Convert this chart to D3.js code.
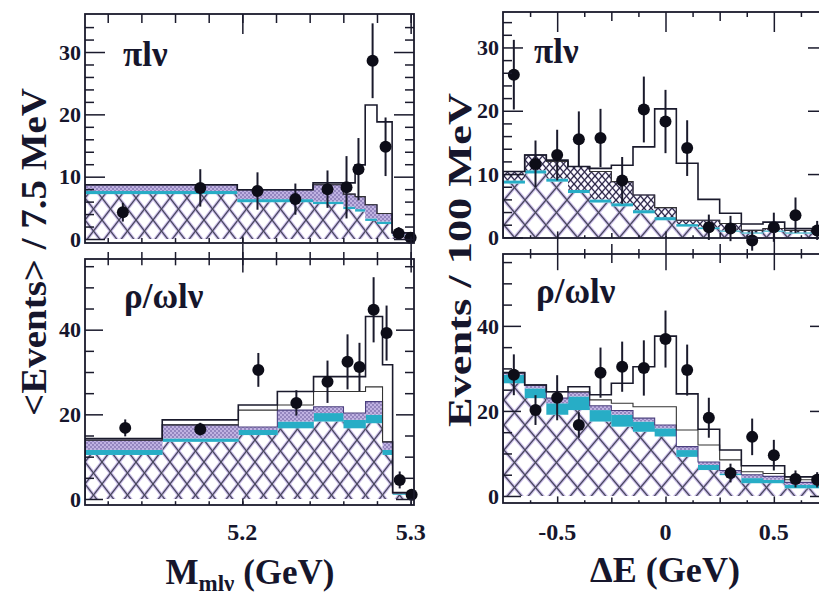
<!DOCTYPE html>
<html>
<head>
<meta charset="utf-8">
<script src="https://cdn.jsdelivr.net/npm/d3@7"></script>
<style>
  body { margin: 0; background: #fff; }
  svg { display: block; }
  text { font-family: "Liberation Serif", "Times New Roman", serif; font-weight: bold; fill: #16162c; }
</style>
</head>
<body>
<svg id="chart" width="819" height="595"></svg>
<script>
// ---------- M(mlν) histograms (bin edges in GeV) ----------
const mEdgesPi  = [5.1065, 5.197, 5.242, 5.260, 5.267, 5.273, 5.280, 5.289, 5.302];
const mPiHatch  = [7.2, 5.9, 5.6, 4.8, 4.4, 2.9, 2.4, 0.5];
const mPiCyan   = [7.7, 6.4, 6.0, 5.2, 4.8, 3.3, 2.8, 0.6];
const mPiBand   = [8.7, 7.9, 8.7, 7.2, 6.8, 5.5, 4.1, 1.0];
const mPiInner  = [8.7, 7.9, 8.7, 7.2, 6.8, 5.5, 4.1, 1.0];
const mPiTotal  = [8.7, 7.9, 9.0, 9.0, 11.9, 21.5, 18.8, 1.0];
const mPiDataX  = [5.129, 5.175, 5.209, 5.2315, 5.2506, 5.2619, 5.269, 5.2774, 5.2851, 5.2929, 5.300];
const mPiDataY  = [4.3, 8.2, 7.7, 6.4, 8.0, 8.3, 11.2, 28.6, 14.8, 0.9, 0.2];
const mPiErr    = [1.5, 3.0, 3.0, 2.5, 3.0, 5.0, 5.0, 6.0, 4.7, 1.0, 0.6];

const mEdgesRho = [5.1065, 5.1524, 5.1976, 5.2208, 5.2423, 5.2601, 5.2732, 5.2833, 5.2893, 5.302];
const mRhoHatch = [10.4, 13.5, 15.1, 16.7, 18.3, 16.7, 17.9, 10.4, 1.0];
const mRhoCyan  = [11.6, 14.3, 16.3, 18.3, 20.3, 18.7, 19.9, 11.6, 1.3];
const mRhoBand  = [13.9, 17.5, 17.0, 21.0, 21.8, 20.3, 23.0, 13.5, 1.5];
const mRhoInner = [13.9, 17.5, 21.0, 22.2, 25.4, 25.4, 26.5, 13.5, 1.5];
const mRhoTotal = [14.3, 18.7, 22.2, 25.4, 28.9, 28.9, 43.1, 31.7, 1.5];
const mRhoDataX = [5.1304, 5.175, 5.2095, 5.2321, 5.2506, 5.2625, 5.2696, 5.278, 5.2857, 5.2935, 5.3006];
const mRhoDataY = [16.8, 16.5, 30.5, 22.7, 27.7, 32.4, 31.2, 44.7, 39.2, 4.5, 1.0];
const mRhoErr   = [2.0, 1.5, 4.0, 3.0, 5.0, 6.5, 5.7, 7.7, 6.5, 2.0, 1.0];

// ---------- ΔE histograms (100 MeV bins) ----------
const eEdges   = [-0.75, -0.65, -0.55, -0.45, -0.35, -0.25, -0.15, -0.05, 0.05, 0.15, 0.25, 0.35, 0.45, 0.55, 0.65, 0.75];
const eCenters = [-0.7, -0.6, -0.5, -0.4, -0.3, -0.2, -0.1, 0.0, 0.1, 0.2, 0.3, 0.4, 0.5, 0.6, 0.7];

const ePiHatch = [8.5, 10.1, 8.8, 7.0, 5.5, 4.9, 3.8, 2.7, 1.7, 1.3, 0.9, 0.6, 0.9, 0.6, 0.6];
const ePiCyan  = [9.0, 10.6, 9.3, 7.5, 6.0, 5.4, 4.3, 3.2, 2.1, 1.6, 1.1, 0.8, 1.1, 0.8, 0.8];
const ePiBand  = [10.4, 13.0, 12.0, 11.2, 10.4, 8.8, 6.7, 4.7, 2.7, 2.7, 2.2, 1.1, 1.4, 1.1, 1.1];
const ePiInner = [10.4, 13.0, 12.0, 11.2, 10.4, 8.8, 6.7, 4.7, 2.7, 2.7, 2.2, 1.1, 1.4, 1.1, 1.1];
const ePiTotal = [10.4, 13.0, 12.2, 11.2, 10.9, 11.4, 14.3, 20.3, 11.7, 6.0, 3.8, 2.1, 2.4, 1.4, 1.4];
const ePiDataY = [25.7, 11.6, 13.0, 15.5, 15.7, 9.0, 20.2, 18.3, 14.1, 1.6, 1.4, -0.5, 1.6, 3.5, 1.1];
const ePiErr   = [5.5, 3.7, 4.0, 4.4, 4.6, 3.7, 5.2, 5.0, 4.4, 2.0, 2.0, 1.6, 2.3, 2.8, 1.5];

const eRhoHatch = [26.5, 23.0, 19.1, 20.2, 17.5, 16.3, 15.1, 14.0, 9.2, 6.1, 4.9, 3.0, 3.0, 1.8, 1.8];
const eRhoCyan  = [28.5, 25.3, 21.8, 23.4, 20.2, 19.1, 17.5, 15.9, 10.8, 7.3, 5.3, 4.2, 3.8, 2.6, 2.6];
const eRhoBand  = [29.0, 26.1, 23.0, 24.4, 21.2, 20.1, 18.3, 16.7, 11.6, 8.0, 6.0, 5.0, 4.6, 3.2, 3.2];
const eRhoInner = [29.0, 26.1, 24.5, 24.5, 22.6, 21.8, 21.0, 21.0, 15.5, 12.0, 8.5, 5.7, 5.3, 3.8, 3.8];
const eRhoTotal = [29.0, 26.1, 24.5, 25.7, 23.8, 26.5, 30.4, 37.6, 24.0, 15.7, 10.8, 7.1, 7.1, 4.5, 4.5];
const eRhoDataY = [28.5, 20.2, 23.1, 16.7, 29.0, 30.4, 30.1, 36.9, 29.6, 18.4, 5.4, 13.9, 9.6, 4.0, 3.8];
const eRhoErr   = [4.8, 3.5, 5.3, 3.0, 5.9, 5.9, 6.5, 6.7, 6.0, 4.7, 2.2, 4.3, 3.6, 2.0, 1.8];

// ---------- ticks ----------
const mTicksMinor = [5.12, 5.14, 5.16, 5.18, 5.20, 5.22, 5.24, 5.26, 5.28, 5.30];
const mTicksMajor = [5.2, 5.3];
const mTickLabels = ["5.2", "5.3"];
const eTicksMinor = [-0.625, -0.375, -0.125, 0.125, 0.375, 0.625];
const eTicksMid   = [-0.25, 0.25];
const eTicksMajor = [-0.5, 0, 0.5];
const eTickLabels = ["-0.5", "0", "0.5"];
const yTopMinor   = [2, 4, 6, 8, 12, 14, 16, 18, 22, 24, 26, 28, 32, 34];
const yTopMajor   = [0, 10, 20, 30];
const yTopLabels  = ["0", "10", "20", "30"];
const yBotMinor   = [5, 10, 15, 25, 30, 35, 45, 50, 55];
const yBotMajor   = [0, 20, 40];
const yBotLabels  = ["0", "20", "40"];

const INK = "#1a1a2c";
const CYAN = "#27adc6";

const svg = d3.select("#chart");
const defs = svg.append("defs");

// diamond lattice fill: dark lines with a soft lavender halo
function lattice(id, w, h, halo, haloW, line, lineW) {
  const p = defs.append("pattern").attr("id", id)
    .attr("patternUnits", "userSpaceOnUse").attr("width", w).attr("height", h);
  p.append("rect").attr("width", w).attr("height", h).attr("fill", "#fff");
  const segs = [];
  for (let i = -1; i <= 1; i++) for (let j = -1; j <= 1; j++) {
    segs.push([i * w, j * h, i * w + w, j * h + h]);
    segs.push([i * w + w, j * h, i * w, j * h + h]);
  }
  [[halo, haloW], [line, lineW]].forEach(([c, sw]) => {
    p.append("g").selectAll("line").data(segs).join("line")
      .attr("x1", d => d[0]).attr("y1", d => d[1]).attr("x2", d => d[2]).attr("y2", d => d[3])
      .attr("stroke", c).attr("stroke-width", sw);
  });
}
lattice("latL", 17, 22, "#cdbfeb", 3.4, "#45455a", 1.25);
lattice("latR", 21, 25, "#cdbfeb", 3.4, "#45455a", 1.25);
lattice("latDense", 7, 8, "#c9bce6", 2.0, "#26263a", 1.1);

// stippled lavender band
const stip = defs.append("pattern").attr("id", "stip")
  .attr("patternUnits", "userSpaceOnUse").attr("width", 4).attr("height", 4);
stip.append("rect").attr("width", 4).attr("height", 4).attr("fill", "#c0b2e2");
stip.append("circle").attr("cx", 1).attr("cy", 1).attr("r", 0.8).attr("fill", "#5c4f92");
stip.append("circle").attr("cx", 3).attr("cy", 3).attr("r", 0.8).attr("fill", "#5c4f92");

function drawPanel(p) {
  const x = d3.scaleLinear().domain(p.xDomain).range([p.left, p.right]);
  const y = d3.scaleLinear().domain(p.yDomain).range([p.bottom, p.top]);
  defs.append("clipPath").attr("id", "clip-" + p.id).append("rect")
    .attr("x", p.left).attr("y", p.top).attr("width", p.right - p.left).attr("height", p.bottom - p.top);

  const g = svg.append("g");
  const body = g.append("g").attr("clip-path", `url(#clip-${p.id})`);
  const idx = d3.range(p.edges.length - 1);

  const layers = [
    { lo: null,    hi: p.hatch, fill: `url(#${p.hatchPat})` },
    { lo: p.hatch, hi: p.cyan,  fill: CYAN },
    { lo: p.cyan,  hi: p.band,  fill: `url(#${p.bandPat})` },
    { lo: p.band,  hi: p.inner, fill: "#fff" }
  ];
  layers.forEach(L => {
    body.append("g").selectAll("rect").data(idx).join("rect")
      .attr("x", i => x(p.edges[i]))
      .attr("width", i => x(p.edges[i + 1]) - x(p.edges[i]) + 0.3)
      .attr("y", i => y(L.hi[i]))
      .attr("height", i => Math.max(0, y(L.lo ? L.lo[i] : 0) - y(L.hi[i])))
      .attr("fill", L.fill);
  });

  const step = d3.line().x(d => x(d[0])).y(d => y(d[1]));
  const pts = vals => idx.flatMap(i => [[p.edges[i], vals[i]], [p.edges[i + 1], vals[i]]]);
  body.append("path").attr("d", step(pts(p.band))).attr("fill", "none").attr("stroke", "#4a3f7e").attr("stroke-width", 1.1);
  body.append("path").attr("d", step(pts(p.inner))).attr("fill", "none").attr("stroke", "#333").attr("stroke-width", 1.1);
  const tot = [[p.edges[0], 0]].concat(pts(p.total));
  body.append("path").attr("d", step(tot)).attr("fill", "none").attr("stroke", INK).attr("stroke-width", 1.6);

  // data points with error bars
  const pg = g.append("g");
  pg.selectAll("line").data(p.dataY).join("line")
    .attr("x1", (d, i) => x(p.dataX[i])).attr("x2", (d, i) => x(p.dataX[i]))
    .attr("y1", (d, i) => y(d + p.err[i])).attr("y2", (d, i) => y(d - p.err[i]))
    .attr("stroke", INK).attr("stroke-width", 2);
  pg.selectAll("circle").data(p.dataY).join("circle")
    .attr("cx", (d, i) => x(p.dataX[i])).attr("cy", d => y(d)).attr("r", 6).attr("fill", "#0d0d18");

  // ticks
  const clean = sel => { sel.select(".domain").remove(); sel.selectAll(".tick line").attr("stroke", INK).attr("stroke-width", 1.5); sel.selectAll(".tick text").remove(); };
  p.xTicks.forEach(t => {
    const top = g.append("g").attr("transform", `translate(0,${p.top})`)
      .call(d3.axisBottom(x).tickValues(t.v).tickSize(t.len).tickFormat("")).call(clean);
    if (p.topMode === "cross") top.selectAll(".tick line").attr("y1", -t.len).attr("y2", t.len * 0.9);
    g.append("g").attr("transform", `translate(0,${p.bottom})`)
      .call(d3.axisTop(x).tickValues(t.v).tickSize(Math.min(t.len, 12) * 0.55).tickFormat("")).call(clean);
  });
  p.yTicks.forEach(t => {
    g.append("g").attr("transform", `translate(${p.left},0)`)
      .call(d3.axisRight(y).tickValues(t.v).tickSize(t.len).tickFormat("")).call(clean);
    g.append("g").attr("transform", `translate(${p.right},0)`)
      .call(d3.axisLeft(y).tickValues(t.v).tickSize(t.len).tickFormat("")).call(clean);
  });

  // y tick labels
  g.append("g").selectAll("text").data(p.yLabelVals).join("text")
    .attr("x", p.left - 4).attr("y", d => y(d)).attr("dy", "0.35em")
    .attr("text-anchor", "end").attr("font-size", 22)
    .text((d, i) => p.yLabels[i]);

  // frame
  g.append("rect").attr("x", p.left).attr("y", p.top)
    .attr("width", p.right - p.left).attr("height", p.bottom - p.top)
    .attr("fill", "none").attr("stroke", INK).attr("stroke-width", 1.8);

  // channel label
  g.append("text").attr("x", p.labelX).attr("y", p.labelY).attr("font-size", 35).text(p.label);
  return x;
}

const mDomain = [5.1065, 5.302];
const eDomain = [-0.75, 0.75];
const mTicks = [{ v: mTicksMinor, len: 9 }, { v: mTicksMajor, len: 20 }];
const eTicks = [{ v: eTicksMinor, len: 5 }, { v: eTicksMid, len: 9 }, { v: eTicksMajor, len: 20 }];
const mTicksCross = [{ v: mTicksMinor, len: 7 }, { v: mTicksMajor, len: 15 }];
const eTicksCross = [{ v: eTicksMinor, len: 5 }, { v: eTicksMid, len: 10 }, { v: eTicksMajor, len: 18 }];
const yTop = [{ v: yTopMinor, len: 9 }, { v: yTopMajor, len: 20 }];
const yBot = [{ v: yBotMinor, len: 9 }, { v: yBotMajor, len: 18 }];

const xM = drawPanel({
  id: "mpi", left: 85, right: 414, top: 14, bottom: 243,
  xDomain: mDomain, yDomain: [-0.64, 36.1], edges: mEdgesPi,
  hatch: mPiHatch, cyan: mPiCyan, band: mPiBand, inner: mPiInner, total: mPiTotal,
  hatchPat: "latL", bandPat: "stip",
  dataX: mPiDataX, dataY: mPiDataY, err: mPiErr,
  xTicks: mTicks, yTicks: yTop, topMode: "in",
  yLabelVals: yTopMajor, yLabels: yTopLabels,
  label: "πlν", labelX: 123, labelY: 66
});
drawPanel({
  id: "mrho", left: 85, right: 414, top: 259, bottom: 505,
  xDomain: mDomain, yDomain: [-1.42, 56.7], edges: mEdgesRho,
  hatch: mRhoHatch, cyan: mRhoCyan, band: mRhoBand, inner: mRhoInner, total: mRhoTotal,
  hatchPat: "latL", bandPat: "stip",
  dataX: mRhoDataX, dataY: mRhoDataY, err: mRhoErr,
  xTicks: mTicksCross, yTicks: yBot, topMode: "cross",
  yLabelVals: yBotMajor, yLabels: yBotLabels,
  label: "ρ/ωlν", labelX: 124, labelY: 308
});
const xE = drawPanel({
  id: "epi", left: 503, right: 828, top: 12, bottom: 238,
  xDomain: eDomain, yDomain: [-0.1, 35.6], edges: eEdges,
  hatch: ePiHatch, cyan: ePiCyan, band: ePiBand, inner: ePiInner, total: ePiTotal,
  hatchPat: "latR", bandPat: "latDense",
  dataX: eCenters, dataY: ePiDataY, err: ePiErr,
  xTicks: eTicks, yTicks: yTop, topMode: "in",
  yLabelVals: yTopMajor, yLabels: yTopLabels,
  label: "πlν", labelX: 534, labelY: 63
});
drawPanel({
  id: "erho", left: 503, right: 828, top: 254, bottom: 503,
  xDomain: eDomain, yDomain: [-1.65, 56.9], edges: eEdges,
  hatch: eRhoHatch, cyan: eRhoCyan, band: eRhoBand, inner: eRhoInner, total: eRhoTotal,
  hatchPat: "latR", bandPat: "stip",
  dataX: eCenters, dataY: eRhoDataY, err: eRhoErr,
  xTicks: eTicksCross, yTicks: yBot, topMode: "cross",
  yLabelVals: yBotMajor, yLabels: yBotLabels,
  label: "ρ/ωlν", labelX: 536, labelY: 303
});

// x tick labels
svg.append("g").selectAll("text").data(mTicksMajor).join("text")
  .attr("x", d => xM(d)).attr("y", 540).attr("text-anchor", "middle").attr("font-size", 24)
  .text((d, i) => mTickLabels[i]);
svg.append("g").selectAll("text").data(eTicksMajor).join("text")
  .attr("x", d => xE(d)).attr("y", 540).attr("text-anchor", "middle").attr("font-size", 24)
  .text((d, i) => eTickLabels[i]);

// axis titles
const tm = svg.append("text").attr("x", 250).attr("y", 584).attr("text-anchor", "middle").attr("font-size", 35);
tm.append("tspan").text("M");
tm.append("tspan").attr("font-size", 23).attr("dy", 7).text("mlν");
tm.append("tspan").attr("dy", -7).text(" (GeV)");
svg.append("text").attr("x", 665).attr("y", 582).attr("text-anchor", "middle").attr("font-size", 35)
  .attr("textLength", 150).attr("lengthAdjust", "spacingAndGlyphs").text("ΔE (GeV)");

svg.append("text").attr("transform", "translate(46,252) rotate(-90)")
  .attr("text-anchor", "middle").attr("font-size", 35)
  .attr("textLength", 328).attr("lengthAdjust", "spacingAndGlyphs").text("<Events> / 7.5 MeV");
svg.append("text").attr("transform", "translate(471,260) rotate(-90)")
  .attr("text-anchor", "middle").attr("font-size", 33)
  .attr("textLength", 334).attr("lengthAdjust", "spacingAndGlyphs").text("Events / 100 MeV");
</script>
</body>
</html>
